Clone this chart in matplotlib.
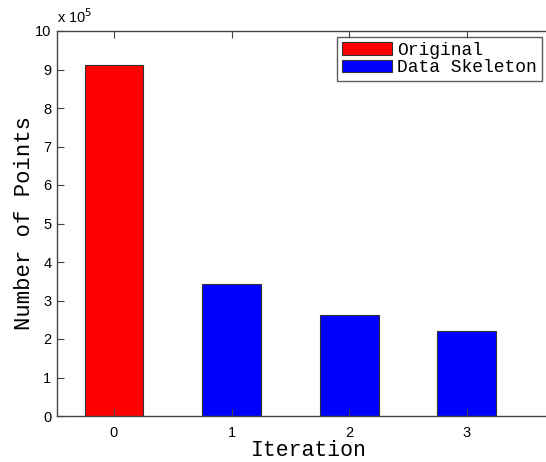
import matplotlib
matplotlib.use("Agg")
import matplotlib.pyplot as plt
from matplotlib.ticker import FuncFormatter

iterations = [0, 1, 2, 3]
points = [911000, 344000, 262000, 221000]
colors = ["#ff0000", "#0000ff", "#0000ff", "#0000ff"]
legend_labels = ["Original", "Data Skeleton"]

mono = "Liberation Mono"
sans = "Liberation Sans"

fig = plt.figure(figsize=(5.46, 4.62), dpi=100)
# axes runs past the right edge, like the cropped original
ax = fig.add_axes([57 / 546, 1 - 416 / 462, 504 / 546, 385 / 462])

bars = ax.bar(iterations, points, width=0.5, color=colors,
              edgecolor="#333333", linewidth=0.8)

ax.set_xlim(-0.484, 3.8)
ax.set_ylim(0, 1e6)
ax.set_xticks(iterations)
ax.set_yticks([i * 1e5 for i in range(11)])
ax.yaxis.set_major_formatter(FuncFormatter(lambda v, p: f"{v / 1e5:g}"))

ax.tick_params(direction="in", length=5, width=0.8, color="#444444",
               top=True, right=True, labelsize=10.5)
ax.tick_params(axis="y", pad=4)
ax.tick_params(axis="x", pad=7)
for lab in ax.get_xticklabels() + ax.get_yticklabels():
    lab.set_fontfamily(sans)
for s in ax.spines.values():
    s.set_color("#444444")
    s.set_linewidth(1.0)

ax.set_xlabel("Iteration", fontfamily=mono, fontsize=15.5, labelpad=0)
ax.set_ylabel("Number of Points", fontfamily=mono, fontsize=16, labelpad=0)

ax.text(0.0, 1.012, r"x 10$^5$", transform=ax.transAxes, fontfamily=sans,
        fontsize=10.5, ha="left", va="bottom")

leg = ax.legend([bars[0], bars[1]], legend_labels, loc="upper left",
                bbox_to_anchor=(280 / 504, 1 - 6 / 385),
                prop={"family": mono, "size": 13}, frameon=True, fancybox=False,
                edgecolor="#333333", handlelength=2.8, handleheight=0.7,
                labelspacing=0.05, borderpad=0.25, handletextpad=0.3,
                borderaxespad=0)
leg.get_frame().set_linewidth(1.0)

fig.savefig("out.png", dpi=100)
